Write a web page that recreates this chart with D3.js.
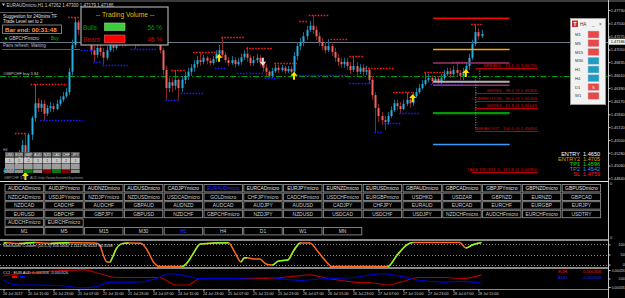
<!DOCTYPE html>
<html>
<head>
<meta charset="utf-8">
<script src="https://cdn.jsdelivr.net/npm/d3@7"></script>
<style>
body { margin: 0; background: #000; overflow: hidden; }
svg { display: block; font-family: "Liberation Sans", Arial, sans-serif; }
</style>
</head>
<body>
<div id="plt"></div>
<script>
// ---- data ----
// heikin ashi candles, H1, open = previous close
var candleFirstOpen = 1.4495;
var candleClose = [
  1.4498, 1.4502, 1.4497, 1.4507, 1.4516, 1.4529, 1.4541, 1.4519, 1.4559, 1.4588,
  1.4613, 1.4605, 1.4612, 1.4595, 1.4605, 1.4608, 1.4603, 1.4612, 1.4619, 1.4625,
  1.4632, 1.4667, 1.4713, 1.4752, 1.4739, 1.4747, 1.4730, 1.4718, 1.4704, 1.4696,
  1.4708, 1.4701, 1.4691, 1.4704, 1.4713, 1.4708, 1.4715, 1.4722, 1.4715, 1.4725,
  1.4730, 1.4722, 1.4715, 1.4722, 1.4728, 1.4735, 1.4728, 1.4722, 1.4728, 1.4718,
  1.4704, 1.4670, 1.4639, 1.4649, 1.4643, 1.4653, 1.4639, 1.4653, 1.4660, 1.4667,
  1.4674, 1.4680, 1.4687, 1.4684, 1.4691, 1.4686, 1.4682, 1.4689, 1.4698, 1.4704,
  1.4696, 1.4687, 1.4682, 1.4687, 1.4680, 1.4684, 1.4692, 1.4698, 1.4691, 1.4682,
  1.4687, 1.4691, 1.4684, 1.4674, 1.4667, 1.4660, 1.4668, 1.4674, 1.4670, 1.4674,
  1.4668, 1.4672, 1.4667, 1.4694, 1.4711, 1.4718, 1.4728, 1.4739, 1.4746, 1.4739,
  1.4728, 1.4718, 1.4711, 1.4704, 1.4711, 1.4701, 1.4691, 1.4684, 1.4680, 1.4684,
  1.4677, 1.4670, 1.4677, 1.4667, 1.4674, 1.4667, 1.4670, 1.4653, 1.4627, 1.4605,
  1.4591, 1.4584, 1.4581, 1.4591, 1.4601, 1.4613, 1.4608, 1.4603, 1.4612, 1.4619,
  1.4613, 1.4625, 1.4632, 1.4639, 1.4646, 1.4653, 1.4656, 1.4651, 1.4655, 1.4649,
  1.4656, 1.4663, 1.4668, 1.4663, 1.4670, 1.4665, 1.4660, 1.4667, 1.4677, 1.4691,
  1.4715, 1.4735, 1.4728, 1.4732
];
var candleHigh = [
  1.4502, 1.4507, 1.4507, 1.4510, 1.4519, 1.4533, 1.4550, 1.4562, 1.4562, 1.4591,
  1.4646, 1.4622, 1.4619, 1.4619, 1.4610, 1.4615, 1.4613, 1.4619, 1.4625, 1.4632,
  1.4639, 1.4674, 1.4722, 1.4761, 1.4756, 1.4756, 1.4752, 1.4735, 1.4722, 1.4711,
  1.4715, 1.4713, 1.4708, 1.4711, 1.4718, 1.4718, 1.4722, 1.4728, 1.4727, 1.4730,
  1.4735, 1.4735, 1.4725, 1.4728, 1.4735, 1.4742, 1.4739, 1.4732, 1.4734, 1.4732,
  1.4722, 1.4708, 1.4677, 1.4656, 1.4656, 1.4670, 1.4656, 1.4660, 1.4667, 1.4674,
  1.4680, 1.4687, 1.4694, 1.4701, 1.4696, 1.4694, 1.4691, 1.4694, 1.4704, 1.4713,
  1.4727, 1.4701, 1.4692, 1.4694, 1.4692, 1.4691, 1.4698, 1.4704, 1.4710, 1.4696,
  1.4694, 1.4698, 1.4696, 1.4691, 1.4680, 1.4670, 1.4674, 1.4682, 1.4679, 1.4679,
  1.4677, 1.4677, 1.4677, 1.4701, 1.4718, 1.4725, 1.4735, 1.4746, 1.4754, 1.4764,
  1.4746, 1.4735, 1.4725, 1.4718, 1.4723, 1.4715, 1.4708, 1.4698, 1.4691, 1.4691,
  1.4691, 1.4684, 1.4694, 1.4684, 1.4680, 1.4680, 1.4677, 1.4674, 1.4660, 1.4632,
  1.4612, 1.4598, 1.4591, 1.4598, 1.4608, 1.4619, 1.4619, 1.4615, 1.4619, 1.4632,
  1.4625, 1.4632, 1.4639, 1.4646, 1.4653, 1.4667, 1.4663, 1.4661, 1.4660, 1.4660,
  1.4663, 1.4670, 1.4674, 1.4674, 1.4677, 1.4684, 1.4670, 1.4674, 1.4684, 1.4698,
  1.4722, 1.4749, 1.4742, 1.4739
];
var candleLow = [
  1.4492, 1.4495, 1.4492, 1.4495, 1.4502, 1.4510, 1.4519, 1.4510, 1.4516, 1.4550,
  1.4581, 1.4598, 1.4598, 1.4584, 1.4591, 1.4598, 1.4598, 1.4601, 1.4608, 1.4615,
  1.4622, 1.4627, 1.4661, 1.4708, 1.4730, 1.4732, 1.4725, 1.4713, 1.4696, 1.4684,
  1.4691, 1.4694, 1.4679, 1.4687, 1.4701, 1.4701, 1.4704, 1.4711, 1.4710, 1.4711,
  1.4722, 1.4715, 1.4706, 1.4711, 1.4718, 1.4725, 1.4722, 1.4715, 1.4718, 1.4711,
  1.4698, 1.4661, 1.4619, 1.4632, 1.4632, 1.4636, 1.4619, 1.4632, 1.4646, 1.4653,
  1.4660, 1.4667, 1.4674, 1.4677, 1.4680, 1.4680, 1.4677, 1.4679, 1.4684, 1.4691,
  1.4691, 1.4682, 1.4677, 1.4679, 1.4674, 1.4677, 1.4679, 1.4687, 1.4684, 1.4677,
  1.4677, 1.4682, 1.4677, 1.4667, 1.4660, 1.4656, 1.4656, 1.4665, 1.4665, 1.4667,
  1.4663, 1.4665, 1.4661, 1.4663, 1.4687, 1.4704, 1.4711, 1.4722, 1.4735, 1.4732,
  1.4722, 1.4711, 1.4704, 1.4698, 1.4701, 1.4694, 1.4684, 1.4677, 1.4674, 1.4674,
  1.4670, 1.4663, 1.4667, 1.4660, 1.4663, 1.4660, 1.4661, 1.4646, 1.4619, 1.4564,
  1.4581, 1.4576, 1.4567, 1.4576, 1.4588, 1.4598, 1.4601, 1.4596, 1.4601, 1.4608,
  1.4605, 1.4608, 1.4622, 1.4629, 1.4636, 1.4643, 1.4649, 1.4646, 1.4648, 1.4646,
  1.4646, 1.4653, 1.4660, 1.4656, 1.4660, 1.4660, 1.4653, 1.4653, 1.4663, 1.4670,
  1.4687, 1.4711, 1.4722, 1.4725
];

var priceTicks = [1.4773, 1.4750, 1.47275, 1.4705, 1.46835, 1.4661, 1.4639, 1.4617, 1.4594, 1.4572, 1.4550, 1.4528, 1.4506, 1.4484];
var lastPrice = 1.47186;
var signalPrice = 1.4660;

// fractal dots: [first candle, last candle, price]
var fractalHigh = [[4, 7, 1.4562], [9, 20, 1.4646], [21, 24, 1.4761], [54, 58, 1.4670], [61, 68, 1.4701],
  [70, 77, 1.4727], [78, 86, 1.4708], [87, 94, 1.4682], [95, 97, 1.4754], [98, 104, 1.4764],
  [105, 110, 1.4723], [111, 115, 1.4694], [116, 125, 1.4674], [125, 131, 1.4632], [135, 141, 1.4667],
  [144, 148, 1.4684], [150, 153, 1.4749]];
var fractalLow = [[1, 5, 1.4495], [12, 25, 1.4584], [25, 29, 1.4704], [29, 31, 1.4684], [32, 40, 1.4679],
  [41, 49, 1.4706], [52, 56, 1.4619], [57, 64, 1.4630], [68, 71, 1.4674], [75, 78, 1.4665],
  [79, 83, 1.4665], [84, 88, 1.4656], [94, 110, 1.4661], [111, 118, 1.4648], [119, 121, 1.4564],
  [122, 127, 1.4579], [127, 133, 1.4596], [137, 147, 1.4646], [147, 151, 1.4649]];
var buyArrows = [[7, 1.4488], [69, 1.4691], [93, 1.4660], [131, 1.4622], [148, 1.4665]];
var sellArrows = [[83, 1.4684]];

// trade levels: SL, ENTRY2, upper band, ENTRY, lower band, TP1, TP2
var levelPrices = [1.4759, 1.4705, 1.4682, 1.4650, 1.4644, 1.4596, 1.4542];
var entryNames = ["ENTRY", "ENTRY2", "TP1", "TP2", "SL"];
var entryValues = ["1.4650", "1.4705", "1.4596", "1.4542", "1.4759"];
var fibNames = ["BREAKS", "SWING", "CORRECTION", "SWING", "BREAKOUT", "TAKE PROFIT 1"];
var fibPct = ["23.6", "38.2", "50.0", "61.8", "100.0", "161.8"];
var fibPrices = [1.46735, 1.46306, 1.46169, 1.46049, 1.45654, 1.44950];

var haFrames = ["M1", "M5", "M15", "M30", "H1", "H4", "D1", "W1"];
var haTrend = [-1, -1, -1, 1, 1, 1, -1, -1];
var volumeNames = ["Bulls", "Bears"];
var volumePct = [56, 45];

var strengthCur = ["USD", "EUR", "GBP", "AUD", "NZD", "CAD", "CHF", "JPY"];
var strengthVal = ["1", "1", "2", "1", "1", "1", "2", "1"];
var strengthDir = [0, 0, 1, 0, -1, 1, -1, 0];

var symbolRows = [
  ["AUDCADmicro", "AUDJPYmicro", "AUDNZDmicro", "AUDUSDmicro", "CADJPYmicro", "EURAUDmicro", "EURCADmicro", "EURJPYmicro", "EURNZDmicro", "EURUSDmicro", "GBPAUDmicro", "GBPCADmicro", "GBPJPYmicro", "GBPNZDmicro", "GBPUSDmicro"],
  ["NZDCADmicro", "USDJPYmicro", "NZDJPYmicro", "NZDUSDmicro", "USDCADmicro", "GOLDmicro", "CHFJPYmicro", "CADCHFmicro", "USDCHFmicro", "EURGBPmicro", "USDHKD", "USDZAR", "GBPNZD", "EURNZD", "GBPCAD"],
  ["NZDCAD", "CADCHF", "AUDCHF", "GBPAUD", "AUDNZD", "AUDCAD", "AUDJPY", "AUDUSD", "CADJPY", "CHFJPY", "EURAUD", "EURCAD", "EURCHF", "EURGBP", "EURJPY"],
  ["EURUSD", "GBPCHF", "GBPJPY", "GBPUSD", "NZDCHF", "GBPCHFmicro", "NZDJPY", "NZDUSD", "USDCAD", "USDCHF", "USDJPY", "NZDCHFmicro", "AUDCHFmicro", "EURCHFmicro", "USDTRY"],
  ["AUDCHFmicro", "EURCHFmicro"]
];
var activeSymbol = "EURAUDmicro";
var timeframes = ["M1", "M5", "M15", "M30", "H1", "H4", "D1", "W1", "MN"];
var activeFrame = "H1";

var timeLabels = ["20 Jul 2017", "20 Jul 15:00", "20 Jul 23:00", "21 Jul 07:00", "21 Jul 15:00", "21 Jul 23:00",
  "24 Jul 07:00", "24 Jul 15:00", "24 Jul 23:00", "25 Jul 07:00", "25 Jul 15:00", "25 Jul 23:00",
  "26 Jul 07:00", "26 Jul 15:00", "26 Jul 23:00", "27 Jul 07:00", "27 Jul 15:00", "27 Jul 23:00",
  "28 Jul 07:00", "28 Jul 15:00"];
var timeIdx = [0, 8, 16, 24, 32, 40, 48, 56, 64, 72, 80, 88, 96, 104, 112, 120, 128, 136, 144, 152];

// stochastic key points
var stochIdx = [0, 1, 5, 10, 15, 21, 29, 30, 31, 32, 33, 34, 35, 36, 38, 40, 44, 46, 48, 50, 57, 59, 61, 63, 72, 74, 76, 77, 78, 80, 82, 84, 86, 88, 91, 93, 95, 98, 101, 104, 105, 123, 126, 129, 131, 146, 148, 150, 153];
var stochVal = [106, 108, 104, 109, 105, 108, 107, 106, 90, 45, 14, 12, 40, 75, 104, 107, 106, 72, 13, -10, -10, 13, 62, 102, 108, 62, 13, 33, 34, 28, 28, 3, -2, 18, 23, 72, 107, 107, 57, 3, -10, -10, 47, 97, 109, 109, 82, 97, 110];

// currency strength (EUR / AUD)
var eurIdx = [0, 9, 26, 31, 36, 50, 52, 55, 59, 63, 73, 84, 95, 98, 104, 112, 119, 123, 127, 133, 141, 147, 153];
var eurVal = [0.00011, 0.00022, 0.00033, 0.00018, 0.00004, 0.00004, -0.00007, -0.00025, -0.00025, 0, 0, 0, 0.00011, 0.00014, 0, -0.00014, -0.00018, -0.00025, -0.00014, 0.00004, 0.00004, 0, 0.00014];
var audIdx = [0, 4, 10, 20, 25, 29, 34, 42, 49, 53, 58, 63, 73, 84, 95, 104, 112, 121, 126, 133, 141, 147, 153];
var audVal = [-0.00007, -0.00025, -0.00025, -0.00029, -0.00036, -0.00033, -0.00014, -0.00014, 0, 0.00018, 0.00011, 0, 0, 0.00004, -0.00007, 0, 0.00004, 0.00018, 0.00011, -0.00007, -0.00014, -0.00011, -0.00018];

// ---- layout ----
var W = 625, H = 298;
var axisX = 608;
var mainTop = 2, mainBottom = 181;
var labelEnd = 16.3; // right axis labels end just inside the window

var svg = d3.select("#plt").append("svg")
  .attr("width", W).attr("height", H)
  .style("background", "#000");

var x = d3.scaleLinear().domain([0, 153]).range([3.5, 481.5]);
var y = d3.scaleLinear().domain([1.4773, 1.4484]).range([10, 178.4]);
var px = function(i) { return Math.round(x(i)); };

// style the right hand axes the same way
var styleRightAxis = function(g, size) {
  g.select(".domain").remove();
  g.selectAll("line").attr("stroke", "#c8c8c8");
  g.selectAll("text").attr("font-size", size).attr("fill", "#d0d0d0")
    .attr("font-family", "Liberation Sans, Arial, sans-serif")
    .attr("text-anchor", "end").attr("x", labelEnd);
};

svg.append("clipPath").attr("id", "mainClip")
  .append("rect").attr("x", 0).attr("y", mainTop).attr("width", axisX).attr("height", mainBottom - mainTop);

// top frame strip
svg.append("rect").attr("x", 0).attr("y", 0).attr("width", W).attr("height", 2).attr("fill", "#3a3a3a");

var main = svg.append("g").attr("clip-path", "url(#mainClip)");

// signal line (green dash dot) and current price line
main.append("line")
  .attr("x1", 0).attr("x2", axisX).attr("y1", Math.round(y(signalPrice)) + 0.5).attr("y2", Math.round(y(signalPrice)) + 0.5)
  .attr("stroke", "#00a000").attr("stroke-dasharray", "6,2,1.5,2");
main.append("line")
  .attr("x1", 0).attr("x2", axisX).attr("y1", Math.round(y(lastPrice)) + 0.5).attr("y2", Math.round(y(lastPrice)) + 0.5)
  .attr("stroke", "#6c7888");

// candles
var candles = candleClose.map(function(c, i) {
  var o = i === 0 ? candleFirstOpen : candleClose[i - 1];
  return { i: i, o: o, c: c, h: Math.max(candleHigh[i], o, c), l: Math.min(candleLow[i], o, c) };
});
main.selectAll(".wick").data(candles).enter().append("rect")
  .attr("x", function(d) { return px(d.i); })
  .attr("y", function(d) { return y(d.h); })
  .attr("width", 1)
  .attr("height", function(d) { return y(d.l) - y(d.h); })
  .attr("fill", function(d) { return d.c >= d.o ? "#16718e" : "#86262a"; });
main.selectAll(".body").data(candles).enter().append("rect")
  .attr("x", function(d) { return px(d.i) - 0.5; })
  .attr("y", function(d) { return y(Math.max(d.o, d.c)); })
  .attr("width", 2)
  .attr("height", function(d) { return Math.max(1, Math.abs(y(d.o) - y(d.c))); })
  .attr("fill", function(d) { return d.c >= d.o ? "#25aee2" : "#f2625e"; });

// fractal dots
main.selectAll(".fh").data(fractalHigh).enter().append("line")
  .attr("x1", function(d) { return x(d[0]) - 1; }).attr("x2", function(d) { return x(d[1]) + 1; })
  .attr("y1", function(d) { return Math.round(y(d[2])) + 0.5; }).attr("y2", function(d) { return Math.round(y(d[2])) + 0.5; })
  .attr("stroke", "#ff1a1a").attr("stroke-width", 1.3).attr("stroke-dasharray", "1.6,1.4");
main.selectAll(".fl").data(fractalLow).enter().append("line")
  .attr("x1", function(d) { return x(d[0]) - 1; }).attr("x2", function(d) { return x(d[1]) + 1; })
  .attr("y1", function(d) { return Math.round(y(d[2])) + 0.5; }).attr("y2", function(d) { return Math.round(y(d[2])) + 0.5; })
  .attr("stroke", "#1a1aff").attr("stroke-width", 1.3).attr("stroke-dasharray", "1.6,1.4");

// arrows
var upArrow = function(cx, cy) {
  return "M" + cx + "," + (cy - 4) + "L" + (cx + 3.5) + "," + cy + "L" + (cx + 1) + "," + cy +
    "L" + (cx + 1) + "," + (cy + 4) + "L" + (cx - 1) + "," + (cy + 4) + "L" + (cx - 1) + "," + cy +
    "L" + (cx - 3.5) + "," + cy + "Z";
};
var downArrow = function(cx, cy) {
  return "M" + cx + "," + (cy + 4) + "L" + (cx + 3.5) + "," + cy + "L" + (cx + 1) + "," + cy +
    "L" + (cx + 1) + "," + (cy - 4) + "L" + (cx - 1) + "," + (cy - 4) + "L" + (cx - 1) + "," + cy +
    "L" + (cx - 3.5) + "," + cy + "Z";
};

// trade levels
var levelStyle = [
  { c: "#ff0000", w: 1.5 }, { c: "#ffa500", w: 1.5 }, { c: "#a0306e", w: 1.5 }, { c: "#b4b4b4", w: 2 },
  { c: "#a0306e", w: 1.5 }, { c: "#009a00", w: 2.2 }, { c: "#3a9cff", w: 1.5 }
];
main.selectAll(".lvl").data(levelPrices).enter().append("line")
  .attr("x1", x(137.5)).attr("x2", x(162))
  .attr("y1", function(d) { return y(d); }).attr("y2", function(d) { return y(d); })
  .attr("stroke", function(d, i) { return levelStyle[i].c; })
  .attr("stroke-width", function(d, i) { return levelStyle[i].w; });

// fib projections
main.append("line").attr("x1", x(151) + 0.5).attr("x2", x(151) + 0.5).attr("y1", y(1.4658)).attr("y2", y(1.4567))
  .attr("stroke", "#9a9a9a").attr("stroke-dasharray", "1,1.5");
main.append("line").attr("x1", x(152.3) + 0.5).attr("x2", x(152.3) + 0.5).attr("y1", y(1.4673)).attr("y2", y(1.4649))
  .attr("stroke", "#9a9a9a").attr("stroke-dasharray", "1,1.5");
main.selectAll(".fibl").data(fibPrices).enter().append("line")
  .attr("x1", function(d, i) { return i === 5 ? x(150) : x(151); }).attr("x2", x(171))
  .attr("y1", function(d) { return Math.round(y(d)) + 0.5; }).attr("y2", function(d) { return Math.round(y(d)) + 0.5; })
  .attr("stroke", "#c00000");
main.selectAll(".fibt").data(fibPrices).enter().append("text")
  .attr("x", x(171) - 1).attr("y", function(d) { return Math.round(y(d)) - 1; })
  .attr("text-anchor", "end").attr("font-size", 4.4).attr("fill", "#cc1010")
  .text(function(d, i) { return fibNames[i] + " - " + fibPct[i] + " @ " + d.toFixed(5); });

main.selectAll(".buy").data(buyArrows).enter().append("path")
  .attr("d", function(d) { return upArrow(x(d[0]), y(d[1])); }).attr("fill", "#ffe000");
main.selectAll(".sell").data(sellArrows).enter().append("path")
  .attr("d", function(d) { return downArrow(x(d[0]), y(d[1])); }).attr("fill", "#ecd2d2");

// entry / tp / sl summary
var entryColors = ["#ffffff", "#e09a00", "#00e000", "#2a90ff", "#ff2020"];
var entry = svg.append("g").attr("font-size", 5.6);
entryNames.forEach(function(n, i) {
  entry.append("text").attr("x", 580).attr("y", 155.5 + i * 5.2).attr("text-anchor", "end")
    .attr("fill", entryColors[i]).text(n);
  entry.append("text").attr("x", 583).attr("y", 155.5 + i * 5.2)
    .attr("fill", entryColors[i]).text(entryValues[i]);
});

// top-left info panel
var info = svg.append("g").attr("font-size", 4.5);
info.append("path").attr("d", "M2,3.5L5,3.5L3.5,6Z").attr("fill", "#d0d0d0");
info.append("text").attr("x", 6.5).attr("y", 6.5).attr("fill", "#d0d0d0")
  .text("EURAUDmicro,H1  1.47262 1.47300 1.47179 1.47186");
info.append("line").attr("x1", 0).attr("x2", 53).attr("y1", 12.5).attr("y2", 12.5).attr("stroke", "#5a5a5a");
info.append("text").attr("x", 3).attr("y", 17.5).attr("fill", "#e0e0e0").text("Suggestion for 240mins TF");
info.append("text").attr("x", 3).attr("y", 23.2).attr("fill", "#e0e0e0").text("Trade Level set to 2");
info.append("rect").attr("x", 2.5).attr("y", 25).attr("width", 59).attr("height", 8.5)
  .attr("fill", "none").attr("stroke", "#7a7a7a");
info.append("text").attr("x", 5).attr("y", 31.6).attr("font-size", 6.2).attr("font-weight", "bold")
  .attr("fill", "#ff9a50").text("Bar end: 00:31:48");
info.append("circle").attr("cx", 6).attr("cy", 38.6).attr("r", 1.1).attr("fill", "#20ff20");
info.append("text").attr("x", 9).attr("y", 40.3).attr("fill", "#d0d0d0").text("GBPCHFmicro");
info.append("text").attr("x", 51).attr("y", 40.3).attr("fill", "#00c000").text("Buy");
info.append("text").attr("x", 3).attr("y", 47.3).attr("fill", "#b4bcd4").text("Pairs refresh, Waiting");
info.append("line").attr("x1", 2).attr("x2", 80).attr("y1", 49.5).attr("y2", 49.5).attr("stroke", "#5a5a5a");
info.append("text").attr("x", 3).attr("y", 74.5).attr("font-size", 4).attr("fill", "#c0c0c0").text("#GBPCHF buy 3.84");

// trading volume box
var vol = svg.append("g");
vol.append("rect").attr("x", 81).attr("y", 7).attr("width", 87).attr("height", 38)
  .attr("fill", "#000").attr("stroke", "#a8a8a8").attr("stroke-width", 1.2);
vol.append("text").attr("x", 125).attr("y", 16.5).attr("text-anchor", "middle").attr("font-size", 6.6)
  .attr("fill", "#dcc000").text("-- Trading Volume --");
var volText = ["#00a000", "#d00000"];
var volFill = ["#3ccc3c", "#ff0000"];
volumeNames.forEach(function(n, i) {
  var cy = 27 + i * 12;
  vol.append("text").attr("x", 83).attr("y", cy + 2.5).attr("font-size", 6.4).attr("fill", volText[i]).text(n);
  vol.append("rect").attr("x", 104.5).attr("y", cy - 4).attr("width", 20.5).attr("height", 7.5)
    .attr("fill", volFill[i]).attr("stroke", i === 0 ? "#8ee08e" : "#ff6060").attr("stroke-width", 0.6);
  vol.append("text").attr("x", 162).attr("y", cy + 2.5).attr("text-anchor", "end").attr("font-size", 6.4)
    .attr("fill", volText[i]).text(volumePct[i] + " %");
});

// currency strength table (bottom left of main chart)
var tbl = svg.append("g").attr("font-size", 3.6);
var cw = 9.4;
tbl.append("text").attr("x", 3).attr("y", 150.5).attr("fill", "#b0b0b0").text("H4");
strengthCur.forEach(function(c, i) {
  var cx = 5 + i * cw;
  tbl.append("rect").attr("x", cx).attr("y", 152).attr("width", cw - 0.5).attr("height", 5).attr("fill", "#555");
  tbl.append("text").attr("x", cx + cw / 2).attr("y", 155.8).attr("text-anchor", "middle").attr("fill", "#eee").text(c);
  tbl.append("rect").attr("x", cx).attr("y", 157.5).attr("width", cw - 0.5).attr("height", 6).attr("fill", "#c4c4c4");
  tbl.append("text").attr("x", cx + cw / 2).attr("y", 162).attr("text-anchor", "middle").attr("fill", "#303030").text(strengthVal[i]);
  tbl.append("rect").attr("x", cx).attr("y", 164).attr("width", cw - 0.5).attr("height", 5.5).attr("fill", "#9c9c9c");
  tbl.append("rect").attr("x", cx).attr("y", 170).attr("width", cw - 0.5).attr("height", 3)
    .attr("fill", strengthDir[i] > 0 ? "#0a7a0a" : strengthDir[i] < 0 ? "#7a0000" : "#8c8c8c");
});
tbl.append("text").attr("x", 4).attr("y", 178.5).attr("fill", "#9a9a9a").text("GBPCHF 3.84 · AUD   http://www.forexmt4systems");

// HA panel
var ha = svg.append("g").attr("font-size", 4.2);
ha.append("rect").attr("x", 570.5).attr("y", 18.5).attr("width", 35).attr("height", 86)
  .attr("fill", "#f2f2f2").attr("stroke", "#9a9a9a");
ha.append("rect").attr("x", 572).attr("y", 20.5).attr("width", 6).attr("height", 6.5).attr("fill", "#c8322c");
ha.append("text").attr("x", 575).attr("y", 25.8).attr("text-anchor", "middle").attr("font-size", 5).attr("font-weight", "bold").attr("fill", "#fff").text("T");
ha.append("text").attr("x", 580).attr("y", 25.8).attr("font-size", 4.6).attr("fill", "#333").text("HA");
ha.append("text").attr("x", 592).attr("y", 25.8).attr("font-size", 4.6).attr("fill", "#555").text("_");
ha.append("text").attr("x", 599).attr("y", 25.8).attr("font-size", 4.6).attr("fill", "#555").text("×");
haFrames.forEach(function(f, i) {
  var cy = 34.5 + i * 8.75;
  ha.append("text").attr("x", 575).attr("y", cy + 1.5).attr("fill", "#333").text(f);
  ha.append("rect").attr("x", 588).attr("y", cy - 3.5).attr("width", 11).attr("height", 7)
    .attr("fill", haTrend[i] > 0 ? "#1f9cc6" : "#e84848").attr("stroke", "#c8c8c8").attr("stroke-width", 0.5);
});
ha.append("text").attr("x", 593.5).attr("y", 34.5 + 6 * 8.75 + 1.5).attr("text-anchor", "middle")
  .attr("font-size", 3.6).attr("fill", "#fff").text("S");

// price axis
svg.append("line").attr("x1", axisX + 0.5).attr("x2", axisX + 0.5).attr("y1", 0).attr("y2", H).attr("stroke", "#c8c8c8");
svg.append("g").attr("transform", "translate(" + (axisX + 0.5) + ",0)")
  .call(d3.axisRight(y).tickValues(priceTicks).tickFormat(d3.format(".5f")).tickSize(2).tickPadding(1))
  .call(styleRightAxis, 3.9);
svg.append("rect").attr("x", axisX + 1).attr("y", y(lastPrice) - 3).attr("width", 16).attr("height", 6).attr("fill", "#f0f0f0");
svg.append("text").attr("x", axisX + 0.5 + labelEnd).attr("y", y(lastPrice) + 1.5).attr("text-anchor", "end")
  .attr("font-size", 3.9).attr("fill", "#000")
  .text(d3.format(".5f")(lastPrice));

// white separator under main chart
svg.append("line").attr("x1", 0).attr("x2", axisX).attr("y1", mainBottom + 0.5).attr("y2", mainBottom + 0.5).attr("stroke", "#e6e6e6");
svg.append("text").attr("x", 610).attr("y", 185).attr("font-size", 4).attr("fill", "#c8c8c8").text("0");
svg.append("text").attr("x", 610).attr("y", 239).attr("font-size", 4).attr("fill", "#c8c8c8").text("0");

// symbol buttons
var grid = svg.append("g").attr("font-size", 4.9);
var colW = 39.8, cellW = 38.4, rowH = 8.6, cellH = 7.4, gx0 = 5, gy0 = 184.5;
symbolRows.forEach(function(row, r) {
  row.forEach(function(s, c) {
    grid.append("rect").attr("x", gx0 + c * colW).attr("y", gy0 + r * rowH).attr("width", cellW).attr("height", cellH)
      .attr("fill", "#000").attr("stroke", "#8c8c8c").attr("stroke-width", 0.9);
    grid.append("text").attr("x", gx0 + c * colW + cellW / 2).attr("y", gy0 + r * rowH + 5.4).attr("text-anchor", "middle")
      .attr("fill", s === activeSymbol ? "#2a2aff" : (r === 0 ? "#e4e4e4" : "#d0d0d0")).text(s);
  });
});
timeframes.forEach(function(t, c) {
  var yy = gy0 + 5 * rowH;
  grid.append("rect").attr("x", gx0 + c * colW).attr("y", yy).attr("width", cellW).attr("height", cellH)
    .attr("fill", "#000").attr("stroke", "#8c8c8c").attr("stroke-width", 0.9);
  grid.append("text").attr("x", gx0 + c * colW + cellW / 2).attr("y", yy + 5.4).attr("text-anchor", "middle")
    .attr("fill", t === activeFrame ? "#2a40ff" : "#d0d0d0").text(t);
});

// stochastic panel
var sTop = 241, sBottom = 267;
svg.append("rect").attr("x", 0).attr("y", sTop - 2).attr("width", axisX).attr("height", 2).attr("fill", "#8a8a8a");
var ys = d3.scaleLinear().domain([-12, 112]).range([sBottom, sTop + 1]);
[0, 50, 100].forEach(function(v) {
  svg.append("line").attr("x1", 0).attr("x2", axisX).attr("y1", Math.round(ys(v)) + 0.5).attr("y2", Math.round(ys(v)) + 0.5)
    .attr("stroke", "#8a8a8a").attr("stroke-dasharray", "1,2");
});
svg.append("g").attr("transform", "translate(" + (axisX + 0.5) + ",0)")
  .call(d3.axisRight(ys).tickValues([0, 50, 100]).tickSize(2).tickPadding(1))
  .call(styleRightAxis, 3.9);

var stochPts = stochIdx.map(function(d, i) { return [d, stochVal[i]]; });
var stochLine = d3.line().x(function(d) { return x(d[0]); }).y(function(d) { return ys(d[1]); }).curve(d3.curveMonotoneX);
var upClip = svg.append("clipPath").attr("id", "stochUp");
stochPts.forEach(function(p, k) {
  if (k < stochPts.length - 1 && stochPts[k + 1][1] > p[1]) {
    upClip.append("rect").attr("x", x(p[0])).attr("y", sTop - 4).attr("width", x(stochPts[k + 1][0]) - x(p[0])).attr("height", 32);
  }
});
svg.append("path").datum(stochPts).attr("d", stochLine).attr("fill", "none").attr("stroke", "#ff6a1e").attr("stroke-width", 1.5);
svg.append("path").datum(stochPts).attr("d", stochLine).attr("clip-path", "url(#stochUp)")
  .attr("fill", "none").attr("stroke", "#7cfc20").attr("stroke-width", 1.5);
svg.append("text").attr("x", 3).attr("y", 247).attr("font-size", 4).attr("fill", "#e0e0e0")
  .text("Stochastic Custom (10,5,5) 100.0000 1.1111 96.6133 96.5538");

// currency strength panel
var cTop = 269, cBottom = 289;
svg.append("rect").attr("x", 0).attr("y", sBottom).attr("width", axisX).attr("height", 2).attr("fill", "#8a8a8a");
var yc = d3.scaleLinear().domain([-0.000326, 0.000326]).range([287, 270]);
svg.append("g").attr("transform", "translate(" + (axisX + 0.5) + ",0)")
  .call(d3.axisRight(yc).tickValues([-0.000326, 0, 0.000326])
    .tickFormat(function(d) { return d === 0 ? "0.00" : d3.format(".6f")(d); }).tickSize(2).tickPadding(1))
  .call(styleRightAxis, 3.1);

var cciLine = d3.line().x(function(d) { return x(d[0]); }).y(function(d) { return yc(d[1]); }).curve(d3.curveMonotoneX);
svg.append("path").datum(eurIdx.map(function(d, i) { return [d, eurVal[i]]; }))
  .attr("d", cciLine).attr("fill", "none").attr("stroke", "#b00000").attr("stroke-width", 1.1);
svg.append("path").datum(audIdx.map(function(d, i) { return [d, audVal[i]]; }))
  .attr("d", cciLine).attr("fill", "none").attr("stroke", "#0000d8").attr("stroke-width", 1.1);
svg.append("text").attr("x", 3).attr("y", 273.5).attr("font-size", 4).attr("fill", "#d8d8d8")
  .text("CCI · EUR AUD 0.000306 -0.000326");
svg.append("rect").attr("x", 12).attr("y", 276).attr("width", 5).attr("height", 2).attr("fill", "#ff0000");
svg.append("rect").attr("x", 20).attr("y", 276).attr("width", 5).attr("height", 2).attr("fill", "#0000ff");
svg.append("text").attr("x", 558).attr("y", 272.5).attr("font-size", 4.4).attr("fill", "#ff1010").text("EUR");
svg.append("text").attr("x", 583).attr("y", 272.5).attr("font-size", 4.4).attr("fill", "#ff1010").text("0.000306");
svg.append("text").attr("x", 558).attr("y", 279).attr("font-size", 4.4).attr("fill", "#2020ff").text("AUD");
svg.append("text").attr("x", 582).attr("y", 279).attr("font-size", 4.4).attr("fill", "#2020ff").text("-0.000326");

// time axis
var tAxis = svg.append("g").attr("transform", "translate(0," + (cBottom + 0.5) + ")")
  .call(d3.axisBottom(x).tickValues(timeIdx).tickFormat(function(d, i) { return timeLabels[i]; }).tickSize(2).tickPadding(1));
tAxis.select(".domain").attr("d", "M0,0H" + axisX).attr("stroke", "#8a8a8a");
tAxis.selectAll("line").attr("stroke", "#c8c8c8");
tAxis.selectAll("text").attr("font-size", 3.8).attr("fill", "#d0d0d0").attr("text-anchor", "start")
  .attr("dx", "-1").attr("font-family", "Liberation Sans, Arial, sans-serif");
</script>
</body>
</html>
